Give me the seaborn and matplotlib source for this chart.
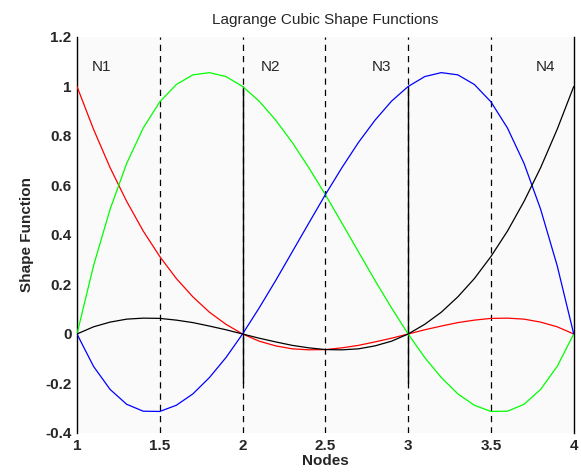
import matplotlib
matplotlib.use("Agg")
import matplotlib.pyplot as plt
import pandas as pd
import seaborn as sns

# node positions and sample points
x_vals = [1.0, 1.1, 1.2, 1.3, 1.4, 1.5, 1.6, 1.7, 1.8, 1.9, 2.0,
          2.1, 2.2, 2.3, 2.4, 2.5, 2.6, 2.7, 2.8, 2.9, 3.0,
          3.1, 3.2, 3.3, 3.4, 3.5, 3.6, 3.7, 3.8, 3.9, 4.0]
n1 = [1.0, 0.827, 0.672, 0.536, 0.416, 0.313, 0.224, 0.150, 0.088, 0.039, 0.0,
      -0.029, -0.048, -0.060, -0.064, -0.063, -0.056, -0.046, -0.032, -0.017, 0.0,
      0.017, 0.032, 0.046, 0.056, 0.063, 0.064, 0.060, 0.048, 0.029, 0.0]
n2 = [0.0, 0.276, 0.504, 0.689, 0.832, 0.938, 1.008, 1.047, 1.056, 1.040, 1.0,
      0.941, 0.864, 0.774, 0.672, 0.563, 0.448, 0.332, 0.216, 0.105, 0.0,
      -0.095, -0.176, -0.242, -0.288, -0.313, -0.312, -0.284, -0.224, -0.131, 0.0]
n3 = [0.0, -0.131, -0.224, -0.284, -0.312, -0.313, -0.288, -0.242, -0.176, -0.095, 0.0,
      0.105, 0.216, 0.332, 0.448, 0.563, 0.672, 0.774, 0.864, 0.941, 1.0,
      1.040, 1.056, 1.047, 1.008, 0.938, 0.832, 0.689, 0.504, 0.276, 0.0]
n4 = [0.0, 0.029, 0.048, 0.060, 0.064, 0.063, 0.056, 0.046, 0.032, 0.017, 0.0,
      -0.017, -0.032, -0.046, -0.056, -0.063, -0.064, -0.060, -0.048, -0.029, 0.0,
      0.039, 0.088, 0.150, 0.224, 0.313, 0.416, 0.536, 0.672, 0.827, 1.0]

names = ["N1", "N2", "N3", "N4"]
colors = ["#ff0000", "#00ff00", "#0000ff", "#000000"]
label_x = [1.15, 2.17, 2.84, 3.83]
label_y = 1.08
half_points = [1.5, 2.0, 2.5, 3.0, 3.5]
inner_nodes = [2.0, 3.0]
x_ticks = [1, 1.5, 2, 2.5, 3, 3.5, 4]
x_ticklabels = ["1", "1.5", "2", "2.5", "3", "3.5", "4"]
y_ticks = [-0.4, -0.2, 0, 0.2, 0.4, 0.6, 0.8, 1.0, 1.2]
y_ticklabels = ["-0.4", "-0.2", "0", "0.2", "0.4", "0.6", "0.8", "1", "1.2"]

df = pd.DataFrame({"x": x_vals * 4,
                   "value": n1 + n2 + n3 + n4,
                   "func": sum([[n] * len(x_vals) for n in names], [])})

sns.set_style("white")
plt.rcParams["font.family"] = ["Liberation Sans Narrow", "Liberation Sans", "DejaVu Sans"]

fig = plt.figure(figsize=(5.81, 4.73), dpi=100)
ax = fig.add_axes([0.1325, 0.0846, 0.855, 0.8372])
ax.set_facecolor("#fafafa")

for xv in half_points:
    ax.axvline(xv, color="black", lw=0.9, ls=(0, (5, 4)), zorder=1)
ax.vlines(inner_nodes, -0.2, 1.0, color="black", lw=1.0, zorder=1)

sns.lineplot(data=df, x="x", y="value", hue="func", palette=colors,
             linewidth=0.9, legend=False, ax=ax, zorder=3)

for name, lx in zip(names, label_x):
    ax.text(lx, label_y, name, ha="center", va="center", fontsize=11)

ax.set_xlim(1, 4)
ax.set_ylim(-0.4, 1.2)
ax.set_xticks(x_ticks)
ax.set_xticklabels(x_ticklabels, fontweight="bold")
ax.set_yticks(y_ticks)
ax.set_yticklabels(y_ticklabels, fontweight="bold")
ax.tick_params(axis="both", length=0, labelsize=11, pad=4)

for side in ["top", "bottom"]:
    ax.spines[side].set_visible(False)
for side in ["left", "right"]:
    ax.spines[side].set_color("black")
    ax.spines[side].set_linewidth(1.0)

ax.set_title("Lagrange Cubic Shape Functions", fontsize=11, pad=9)
ax.set_xlabel("Nodes", fontsize=11, fontweight="bold", labelpad=1)
ax.set_ylabel("Shape Function", fontsize=11, fontweight="bold", labelpad=8)

fig.savefig("out.png", dpi=100)
